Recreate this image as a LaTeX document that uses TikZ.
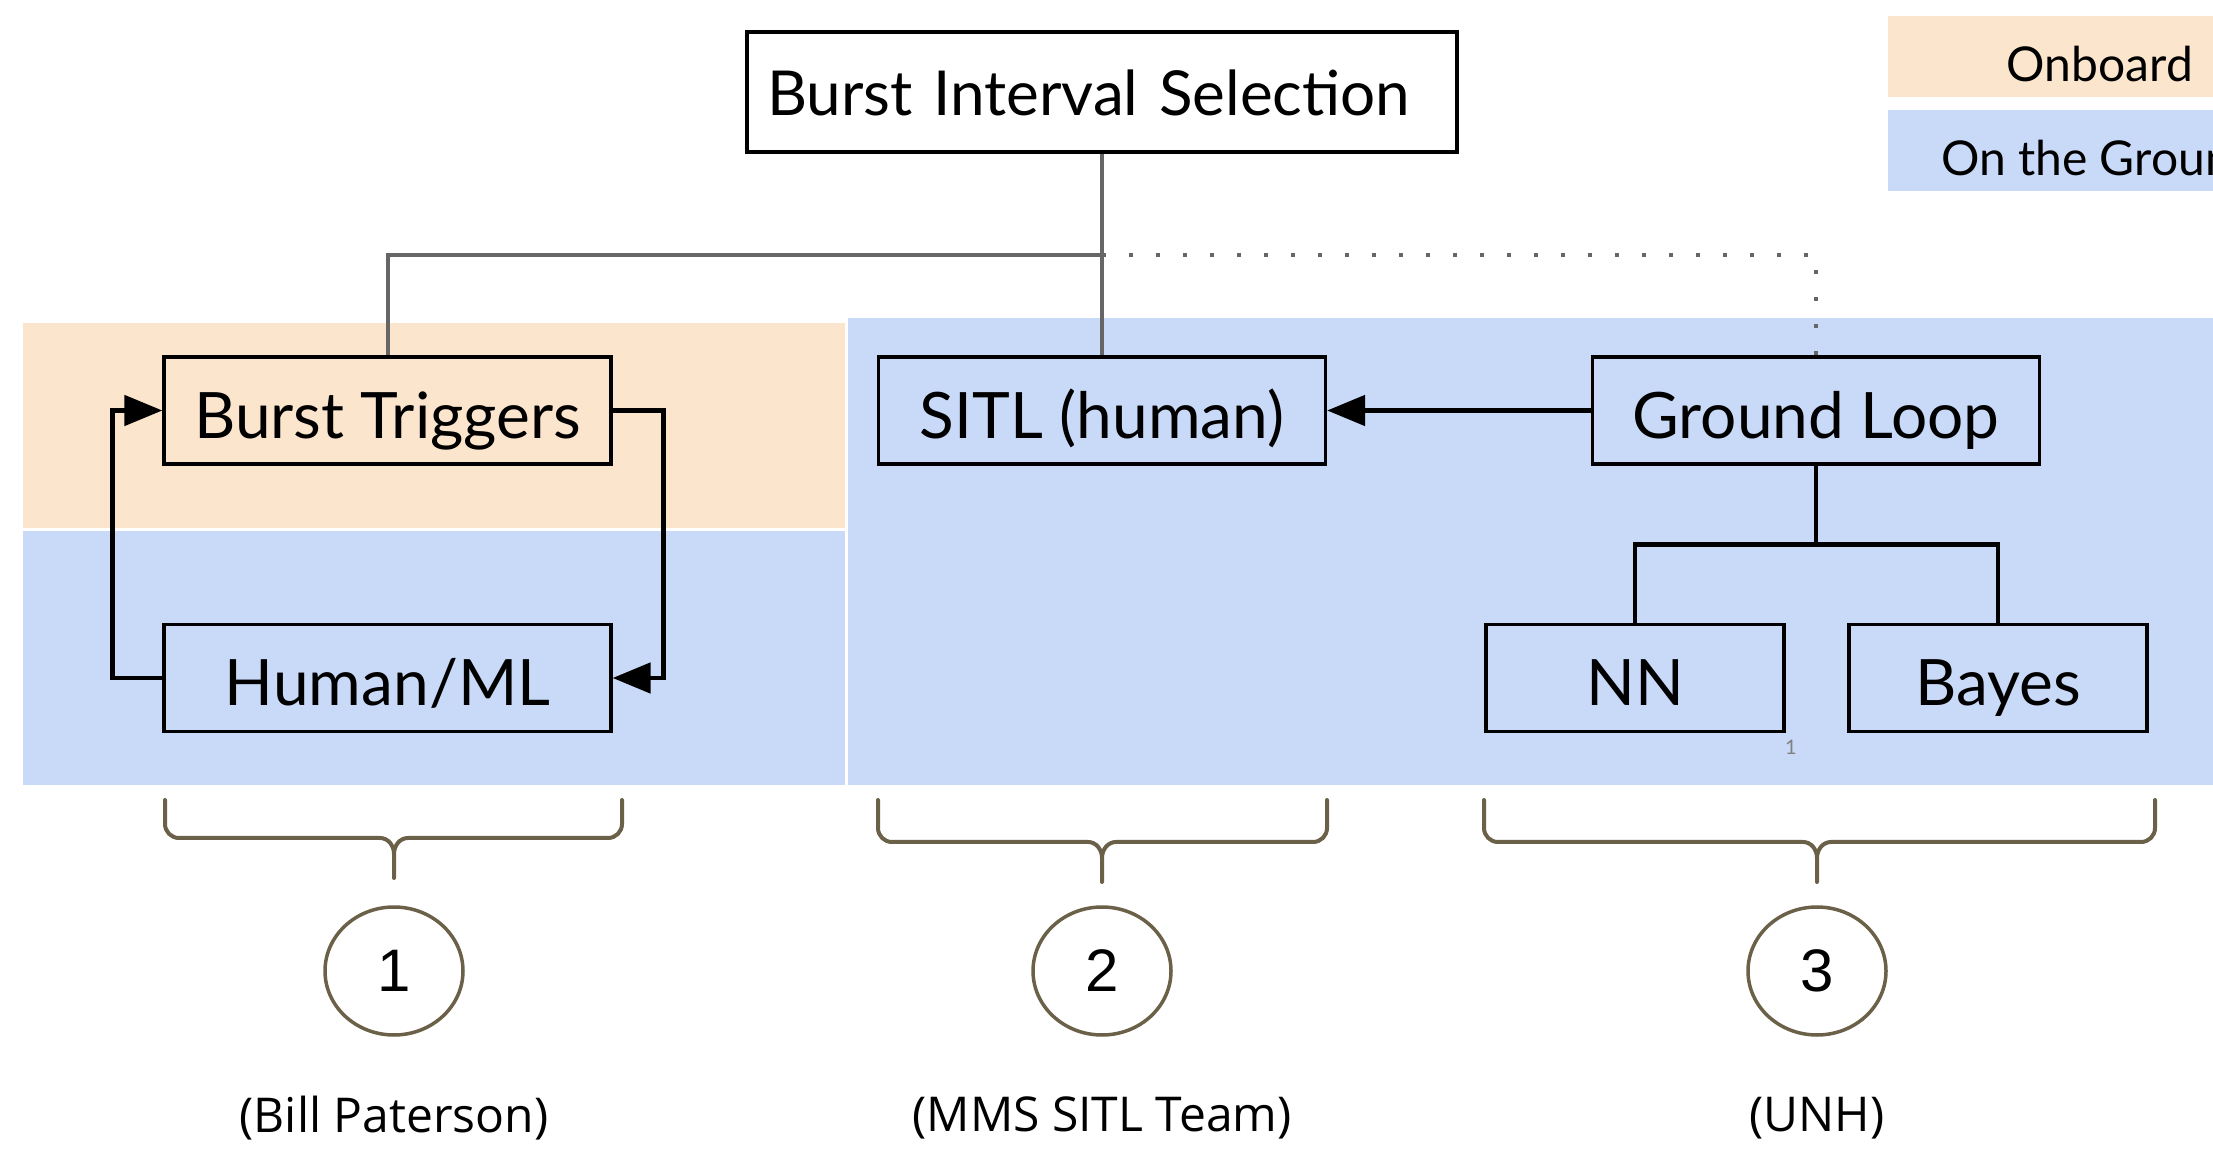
\documentclass[tikz,border=0pt]{standalone}
\usepackage{fontspec}
\setmainfont{Lato}
\newfontfamily\teamfont{Open Sans}
\newfontfamily\numfont{Liberation Sans}
\usetikzlibrary{arrows.meta,shapes.geometric}
\definecolor{onboardfill}{HTML}{FCE5CD}
\definecolor{groundfill}{HTML}{C9DAF8}
\definecolor{bracecol}{HTML}{6B6048}
\definecolor{linegray}{HTML}{666666}
\begin{document}
\begin{tikzpicture}[x=0.5pt,y=-0.5pt]
	\tikzstyle{every node}+=[inner sep=0pt,font=\fontsize{32}{38}\selectfont]
	\tikzstyle{box}=[draw=black,line width=1.6pt,minimum width=223.5pt,minimum height=53.5pt,text height=32pt,text depth=4pt]
	\tikzstyle{legendbox}=[minimum width=212pt,minimum height=40.5pt,text height=25pt,text depth=0pt,font=\fontsize{24}{28}\selectfont]
	\tikzstyle{link}=[black,line width=2.4pt]
	\tikzstyle{tip}=[-{Triangle[length=19pt,width=15pt]}]
	\tikzstyle{graylink}=[linegray,line width=2pt]
	\tikzstyle{dotlink}=[linegray,line width=2pt,dash pattern=on 2pt off 11.5pt]
	\tikzstyle{brace}=[bracecol,line width=2pt,line cap=round]
	\tikzstyle{numcirc}=[ellipse,draw=bracecol,line width=1.75pt,minimum width=69pt,minimum height=64pt,font=\numfont\fontsize{30}{34}\selectfont]
	\tikzstyle{team}=[font=\teamfont\fontsize{24}{28}\selectfont]
	\useasboundingbox (0,0) rectangle (2213,1154);
	\clip (0,0) rectangle (2213,1154);
	% onboard / ground bands
	\fill[onboardfill] (23,323) rectangle (845,528);
	\fill[groundfill] (23,531) rectangle (845,785);
	\fill[groundfill] (848,318) rectangle (2213,785);
	% legend
	\node[legendbox,fill=onboardfill] (onboard) at (2100,56.5) {Onboard};
	\node[legendbox,fill=groundfill] (ground) at (2100,150.5) {On the Ground};
	% boxes
	\node[box,text width=335pt,inner xsep=10pt,align=left,minimum height=60pt,text height=28pt,font=\fontsize{31}{37}\selectfont] (bis) at (1102,92) {Burst Interval Selection};
	\node[box] (bt) at (387.5,410.5) {Burst Triggers};
	\node[box] (hml) at (387.5,678) {Human/ML};
	\node[box] (sitl) at (1102,410.5) {SITL (human)};
	\node[box] (gl) at (1816,410.5) {Ground Loop};
	\node[box,minimum width=149pt] (nn) at (1635,678) {NN};
	\node[box,minimum width=149pt] (bayes) at (1998,678) {Bayes};
	\node[font=\fontsize{10}{12}\selectfont,text=gray] (pagemark) at (1791,747) {1};
	% tree lines
	\coordinate (split) at (1102,255);
	\draw[graylink] (bis.south) -- (sitl.north);
	\draw[graylink] (split) -| (bt.north);
	\draw[dotlink] (split) -| (gl.north);
	% trigger loop
	\draw[link,tip] (hml.west) -- ++(-50,0) |- (bt.west);
	\draw[link,tip] (bt.east) -- ++(51,0) |- (hml.east);
	\draw[link,tip] (gl.west) -- (sitl.east);
	\draw[link] (gl.south) -- ++(0,79) -| (nn.north);
	\draw[link] (gl.south) -- ++(0,79) -| (bayes.north);
	% braces, numbers and teams
	\foreach \n/\a/\b/\c/\ly/\who in {1/165/622/394/838/Bill Paterson,2/878/1327/1102/842/MMS SITL Team,3/1484/2155/1817/842/UNH}{
		\draw[brace] (\a,800) -- (\a,\ly-14) to[out=-90,in=180] (\a+14,\ly) -- (\c-14,\ly) to[out=0,in=90] (\c,\ly+16) -- (\c,\ly+40)
			(\c,\ly+16) to[out=90,in=180] (\c+14,\ly) -- (\b-14,\ly) to[out=0,in=-90] (\b,\ly-14) -- (\b,800);
		\node[numcirc] (num\n) at (\c,971) {\n};
		\node[team] (team\n) at (\c,1118) {(\who)};
	}
\end{tikzpicture}
\end{document}
